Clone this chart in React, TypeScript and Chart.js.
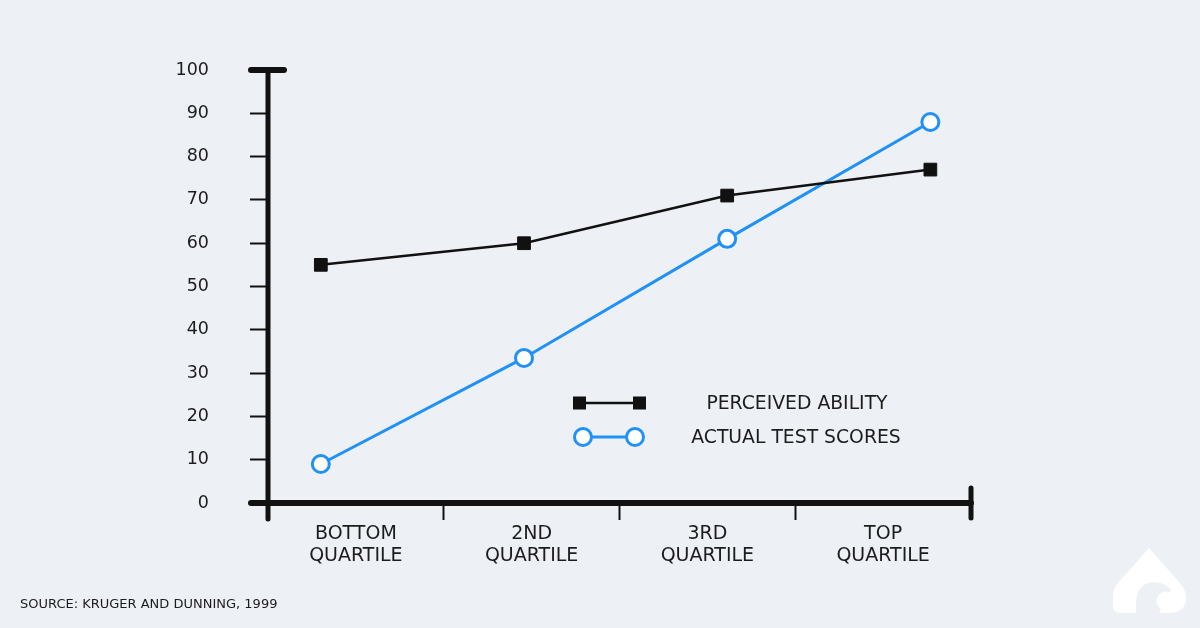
import React, { useEffect, useRef } from 'react';
import { Chart, registerables } from 'chart.js';

Chart.register(...registerables);

// ---------- data ----------
const categories: string[][] = [
  ['BOTTOM', 'QUARTILE'],
  ['2ND', 'QUARTILE'],
  ['3RD', 'QUARTILE'],
  ['TOP', 'QUARTILE'],
];
const perceivedAbility: number[] = [55, 60, 71, 77];
const actualTestScores: number[] = [9, 33.5, 61, 88];
const seriesLabels: string[] = ['PERCEIVED ABILITY', 'ACTUAL TEST SCORES'];
const sourceText = 'SOURCE: KRUGER AND DUNNING, 1999';

// ---------- styles ----------
const BG = '#edf1f6';
const BLUE = '#2191f5';
const INK = '#111111';
const TEXT = '#1c1c1c';
const FONT = '"DejaVu Sans", "Open Sans", sans-serif';

const axesPlugin = {
  id: 'customAxes',
  beforeDatasetsDraw(chart: any) {
    const { ctx, chartArea } = chart;
    const { left, right, top, bottom } = chartArea;
    ctx.save();
    ctx.strokeStyle = INK;
    ctx.lineCap = 'round';
    // y axis
    ctx.lineWidth = 5;
    ctx.beginPath();
    ctx.moveTo(left, top);
    ctx.lineTo(left, bottom + 16);
    ctx.stroke();
    // top cap
    ctx.lineWidth = 6;
    ctx.beginPath();
    ctx.moveTo(left - 17, top);
    ctx.lineTo(left + 16, top);
    ctx.stroke();
    // x axis
    ctx.lineWidth = 6;
    ctx.beginPath();
    ctx.moveTo(left - 17, bottom);
    ctx.lineTo(right, bottom);
    ctx.stroke();
    // right cap
    ctx.lineWidth = 5;
    ctx.beginPath();
    ctx.moveTo(right, bottom - 15);
    ctx.lineTo(right, bottom + 15);
    ctx.stroke();
    ctx.restore();
  },
};

const legendPlugin = {
  id: 'customLegend',
  afterDatasetsDraw(chart: any) {
    const { ctx } = chart;
    const ds = chart.data.datasets;
    ctx.save();
    // perceived
    const y1 = 403;
    ctx.strokeStyle = INK;
    ctx.lineWidth = 2.5;
    ctx.beginPath();
    ctx.moveTo(579, y1);
    ctx.lineTo(639, y1);
    ctx.stroke();
    ctx.fillStyle = INK;
    ctx.fillRect(573, y1 - 6.5, 13, 13);
    ctx.fillRect(633, y1 - 6.5, 13, 13);
    // actual
    const y2 = 437;
    ctx.strokeStyle = BLUE;
    ctx.lineWidth = 3;
    ctx.beginPath();
    ctx.moveTo(583, y2);
    ctx.lineTo(635, y2);
    ctx.stroke();
    [583, 635].forEach((cx) => {
      ctx.beginPath();
      ctx.arc(cx, y2, 8.5, 0, Math.PI * 2);
      ctx.fillStyle = '#ffffff';
      ctx.fill();
      ctx.stroke();
    });
    ctx.fillStyle = TEXT;
    ctx.font = `18.8px ${FONT}`;
    ctx.textAlign = 'center';
    ctx.textBaseline = 'middle';
    ctx.fillText(ds[0].label, 797, y1 + 1);
    ctx.fillText(ds[1].label, 796, y2 + 1);
    ctx.restore();
  },
};

const extrasPlugin = {
  id: 'extras',
  afterDraw(chart: any) {
    const { ctx } = chart;
    ctx.save();
    ctx.fillStyle = TEXT;
    ctx.font = `13px ${FONT}`;
    ctx.textAlign = 'left';
    ctx.textBaseline = 'middle';
    ctx.fillText(sourceText, 20, 605);

    // logo
    ctx.fillStyle = '#ffffff';
    ctx.beginPath();
    ctx.moveTo(1149, 548);
    ctx.lineTo(1179, 582);
    ctx.quadraticCurveTo(1186, 590, 1186, 598);
    ctx.quadraticCurveTo(1186, 613, 1168, 613);
    ctx.lineTo(1120, 613);
    ctx.quadraticCurveTo(1113, 613, 1113, 605);
    ctx.lineTo(1113, 597);
    ctx.quadraticCurveTo(1113, 588, 1119, 582);
    ctx.closePath();
    ctx.fill();
    ctx.fillStyle = BG;
    ctx.beginPath();
    ctx.moveTo(1136, 615);
    ctx.lineTo(1136, 602);
    ctx.bezierCurveTo(1136, 590, 1144, 582, 1153, 582);
    ctx.bezierCurveTo(1162, 582, 1168, 586, 1171, 590);
    ctx.lineTo(1158, 615);
    ctx.closePath();
    ctx.fill();
    ctx.fillStyle = '#ffffff';
    ctx.beginPath();
    ctx.arc(1166, 601, 9.5, 0, Math.PI * 2);
    ctx.fill();
    ctx.restore();
  },
};

export default function App() {
  const ref = useRef<HTMLCanvasElement>(null);

  useEffect(() => {
    document.body.style.margin = '0';
    document.body.style.background = BG;
    const canvas = ref.current!;
    const chart = new Chart(canvas, {
      type: 'line',
      data: {
        labels: categories as any,
        datasets: [
          {
            label: seriesLabels[0],
            data: perceivedAbility.map((v, i) => ({ x: i, y: v })),
            xAxisID: 'xd',
            borderColor: INK,
            backgroundColor: INK,
            borderWidth: 2.5,
            pointStyle: 'rect',
            pointRadius: 9,
            pointBorderWidth: 1,
            pointBackgroundColor: INK,
            pointBorderColor: INK,
            tension: 0,
          },
          {
            label: seriesLabels[1],
            data: actualTestScores.map((v, i) => ({ x: i, y: v })),
            xAxisID: 'xd',
            borderColor: BLUE,
            backgroundColor: '#ffffff',
            borderWidth: 3,
            pointStyle: 'circle',
            pointRadius: 8.5,
            pointBorderWidth: 3,
            pointBackgroundColor: '#ffffff',
            pointBorderColor: BLUE,
            tension: 0,
          },
        ],
      },
      options: {
        responsive: false,
        animation: false,
        devicePixelRatio: 1,
        layout: { padding: { left: 0, top: 70, right: 229, bottom: 0 } },
        plugins: {
          legend: { display: false },
          tooltip: { enabled: false },
        },
        scales: {
          x: {
            type: 'category',
            position: 'bottom',
            offset: true,
            grid: {
              display: true,
              drawOnChartArea: false,
              drawTicks: true,
              tickLength: 17,
              tickWidth: 2,
              tickColor: INK,
              offset: true,
            },
            border: { display: false },
            ticks: {
              color: TEXT,
              font: { family: FONT, size: 19, lineHeight: 1.15 },
              padding: 3,
              maxRotation: 0,
              autoSkip: false,
            },
            afterFit: (s: any) => {
              s.height = 125;
            },
          },
          xd: {
            type: 'linear',
            display: false,
            min: -0.26,
            max: 3.2,
          },
          y: {
            type: 'linear',
            min: 0,
            max: 100,
            ticks: {
              stepSize: 10,
              padding: 41,
              color: TEXT,
              font: { family: FONT, size: 17.5 },
            },
            grid: {
              display: true,
              drawOnChartArea: false,
              drawTicks: true,
              tickLength: 18,
              tickWidth: 2,
              tickColor: INK,
            },
            border: { display: false },
            afterFit: (s: any) => {
              s.width = 268;
            },
          },
        } as any,
      },
      plugins: [axesPlugin, legendPlugin, extrasPlugin],
    });
    return () => chart.destroy();
  }, []);

  return (
    <div style={{ width: 1200, height: 628, background: BG }}>
      <canvas ref={ref} width={1200} height={628} style={{ display: 'block' }} />
    </div>
  );
}
